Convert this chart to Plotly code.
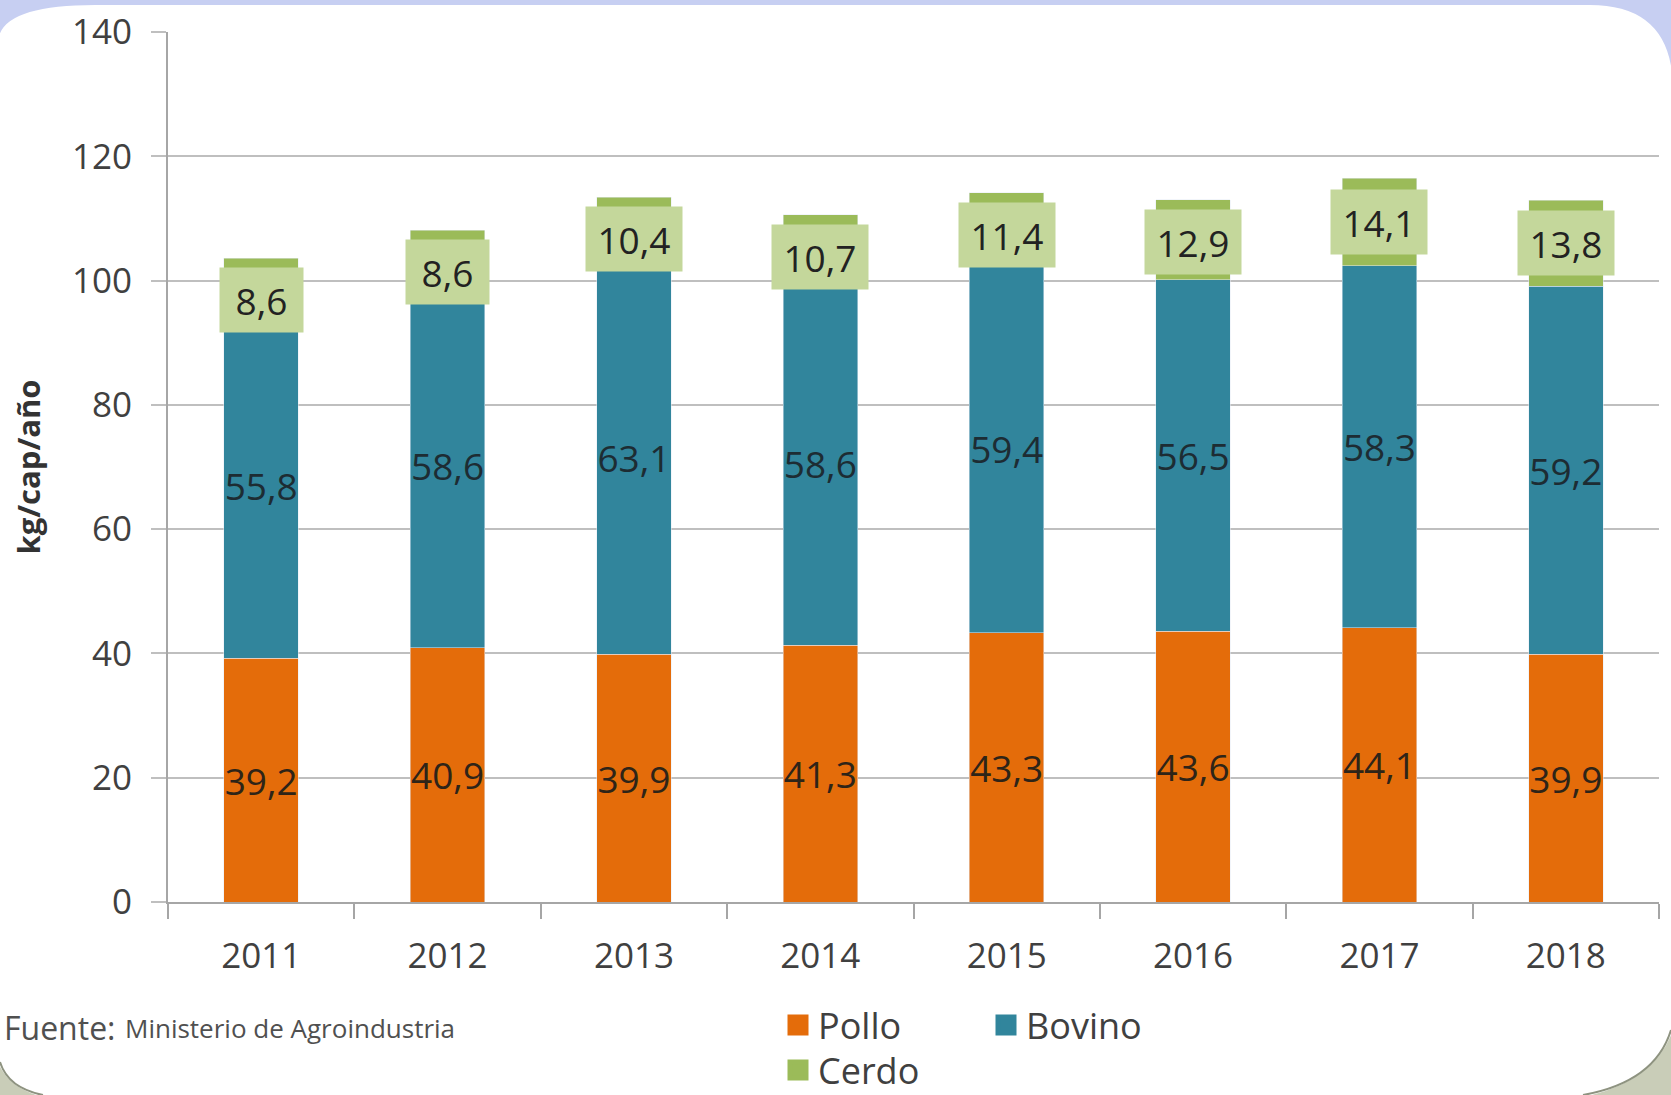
import plotly.graph_objects as go

# ---------------- data ----------------
years = ["2011", "2012", "2013", "2014", "2015", "2016", "2017", "2018"]
pollo = [39.2, 40.9, 39.9, 41.3, 43.3, 43.6, 44.1, 39.9]
bovino = [55.8, 58.6, 63.1, 58.6, 59.4, 56.5, 58.3, 59.2]
cerdo = [8.6, 8.6, 10.4, 10.7, 11.4, 12.9, 14.1, 13.8]
series_names = ["Pollo", "Bovino", "Cerdo"]
y_ticks = [0, 20, 40, 60, 80, 100, 120, 140]
y_title = "kg/cap/año"
source_label = "Fuente:"
source_text = "Ministerio de Agroindustria"

# ---------------- style ----------------
FONT = "Open Sans"
C_POLLO, C_BOVINO, C_CERDO = "#E46C0A", "#31859C", "#9BBB59"
C_LABEL_BOX = "#C4D79B"
TXT = "#404040"

W, H = 1671, 1095
L, R, T, B = 168, 12, 32, 193
PW, PH = W - L - R, H - T - B
Y_MAX = 140


def fmt(v):
    return f"{v:.1f}".replace(".", ",")


def px_x(x):
    return (x - L) / PW


def px_y(y):
    return (H - B - y) / PH


def path(cmds):
    out = []
    for c in cmds:
        if isinstance(c, str):
            out.append(c)
        else:
            out.append(f"{px_x(c[0]):.5f},{px_y(c[1]):.5f}")
    return " ".join(out)


fig = go.Figure()

fig.add_bar(x=years, y=pollo, name=series_names[0], marker_color=C_POLLO,
            text=[fmt(v) for v in pollo], textposition="inside", textangle=0,
            insidetextanchor="middle", constraintext="none",
            textfont=dict(size=37, color="#2e2418", family=FONT),
            showlegend=False)
fig.add_bar(x=years, y=bovino, name=series_names[1], marker_color=C_BOVINO,
            text=[fmt(v) for v in bovino], textposition="inside", textangle=0,
            insidetextanchor="middle", constraintext="none",
            textfont=dict(size=37, color="#1d2c33", family=FONT),
            showlegend=False)
fig.add_bar(x=years, y=cerdo, name=series_names[2], marker_color=C_CERDO,
            showlegend=False)

# legend entries (square swatches, no data drawn)
for name, col, lg in [(series_names[0], C_POLLO, "legend"),
                      (series_names[1], C_BOVINO, "legend"),
                      (series_names[2], C_CERDO, "legend2")]:
    fig.add_scatter(x=[years[0]], y=[None], mode="markers", name=name, legend=lg,
                    marker=dict(symbol="square", size=16, color=col,
                                line=dict(color=col, width=5)),
                    hoverinfo="skip")

# Cerdo labels with light-green boxes
ppu = PH / Y_MAX
box_pad = 9
box_text_h = 46
half_box = box_text_h / 2 + box_pad
strip = 10
annotations = []
for i, (p, b, c) in enumerate(zip(pollo, bovino, cerdo)):
    label = fmt(c)
    mid = p + b + c / 2
    shift = min(0, c * ppu / 2 - half_box - strip)
    annotations.append(dict(x=i, y=mid, xref="x", yref="y", text=label,
                            showarrow=False, bgcolor=C_LABEL_BOX, borderpad=box_pad,
                            width=13 * len(label) + 26, height=box_text_h,
                            yshift=shift, xanchor="center", yanchor="middle",
                            align="center", valign="middle",
                            font=dict(size=37, color="#222222", family=FONT)))

annotations.append(dict(x=px_x(2), y=px_y(1027), xref="paper", yref="paper",
                        xanchor="left", yanchor="middle", showarrow=False,
                        text=source_label,
                        font=dict(size=32, color="#505050", family=FONT)))
annotations.append(dict(x=px_x(123), y=px_y(1028), xref="paper", yref="paper",
                        xanchor="left", yanchor="middle", showarrow=False,
                        text=source_text,
                        font=dict(size=26, color="#505050", family=FONT)))

shapes = [
    dict(type="path", xref="paper", yref="paper", layer="above",
         path=path(["M", (-2, -2), "L", (-2, 42), "Q", (0, 5), (95, 5), "L", (1590, 5),
                    "Q", (1673, 5), (1673, 90), "L", (1673, -2), "Z"]),
         fillcolor="#C7CFF2", line=dict(width=0)),
    dict(type="path", xref="paper", yref="paper", layer="above",
         path=path(["M", (1673, 1030), "Q", (1655, 1082), (1583, 1097), "L", (1673, 1097), "Z"]),
         fillcolor="#C9CDB8", line=dict(width=0)),
    dict(type="path", xref="paper", yref="paper", layer="above",
         path=path(["M", (1671, 1030), "Q", (1655, 1082), (1583, 1095)]),
         fillcolor="rgba(0,0,0,0)", line=dict(color="#8E9380", width=2)),
    dict(type="path", xref="paper", yref="paper", layer="above",
         path=path(["M", (-2, 1062), "Q", (8, 1088), (43, 1097), "L", (-2, 1097), "Z"]),
         fillcolor="#C9CDB8", line=dict(width=0)),
    dict(type="path", xref="paper", yref="paper", layer="above",
         path=path(["M", (0, 1062), "Q", (8, 1088), (43, 1095)]),
         fillcolor="rgba(0,0,0,0)", line=dict(color="#8E9380", width=2)),
]

legend_common = dict(orientation="h", xref="container", yref="container",
                     xanchor="left", yanchor="middle", traceorder="normal",
                     font=dict(size=36, color=TXT, family=FONT),
                     bgcolor="rgba(0,0,0,0)", entrywidth=163,
                     itemclick=False, itemdoubleclick=False)

fig.update_layout(
    width=W, height=H,
    margin=dict(l=L, r=R, t=T, b=B, autoexpand=False),
    paper_bgcolor="white", plot_bgcolor="white",
    barmode="stack", bargap=0.6,
    font=dict(family=FONT, color=TXT),
    xaxis=dict(type="category", categoryorder="array", categoryarray=years,
               range=[-0.5, len(years) - 0.5], autorange=False,
               showline=True, linecolor="#A6A6A6", linewidth=2,
               ticks="outside", tickson="boundaries", ticklen=15, tickwidth=2,
               tickcolor="#A6A6A6", showgrid=False, tickangle=0,
               tickfont=dict(size=35, color=TXT, family=FONT),
               ticklabelstandoff=22, fixedrange=True),
    yaxis=dict(range=[0, Y_MAX], tickvals=y_ticks, showgrid=True,
               gridcolor="#BFBFBF", gridwidth=2, zeroline=False,
               showline=True, linecolor="#A6A6A6", linewidth=2,
               ticks="outside", ticklen=15, tickwidth=2, tickcolor="#BFBFBF",
               tickfont=dict(size=35, color=TXT, family=FONT),
               ticklabelstandoff=12, fixedrange=True,
               title=dict(text=y_title, standoff=22,
                          font=dict(size=31, color="#333333", family=FONT, weight=700))),
    legend=dict(legend_common, x=778 / W, y=1 - 1025 / H),
    legend2=dict(legend_common, x=778 / W, y=1 - 1070 / H),
    annotations=annotations,
    shapes=shapes,
    hovermode=False,
)

fig.write_html("out.html", config={"displayModeBar": False})
